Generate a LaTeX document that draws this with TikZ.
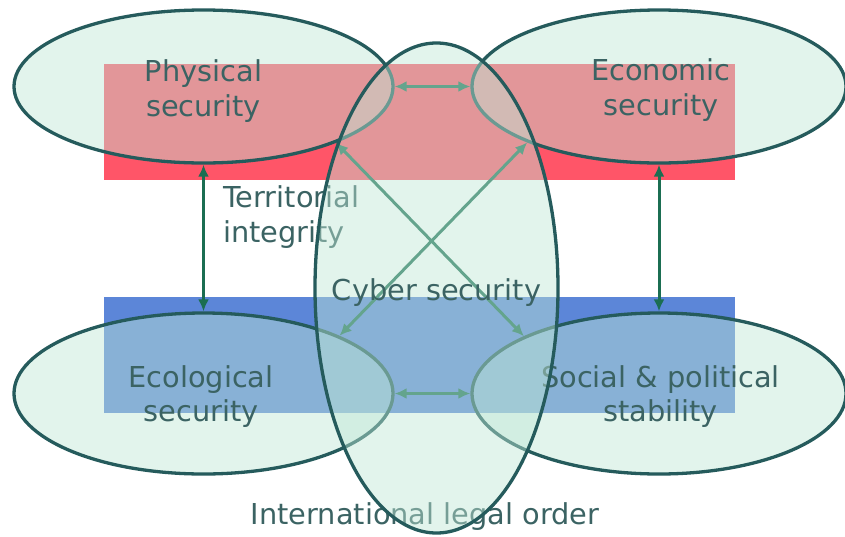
\documentclass[tikz,border=0pt]{standalone}
\usepackage{fontspec}
\setmainfont{DejaVu Sans}
\usetikzlibrary{shapes.geometric,arrows.meta}
\definecolor{outl}{HTML}{255B5C}
\definecolor{txt}{HTML}{3B6363}
\definecolor{redr}{HTML}{FF5568}
\definecolor{bluer}{HTML}{5C86D8}
\definecolor{arr}{HTML}{1B6E52}
\definecolor{ellf}{HTML}{BFE7D5}
\begin{document}
\begin{tikzpicture}[x=1pt,y=-1pt,
  oval/.style={ellipse, draw=outl, line width=3.3pt, fill=ellf, fill opacity=0.45, draw opacity=1, inner sep=0pt},
  lbl/.style={text=txt, font=\fontsize{28.8}{34.5}\selectfont, inner sep=0pt, align=center},
  link/.style={draw=arr, line width=3pt, {Latex[length=12pt,width=11pt]}-{Latex[length=12pt,width=11pt]}}]
\useasboundingbox (0,0) rectangle (845,536);
% bands
\fill[redr] (104,64) rectangle (735,180);
\fill[bluer] (104,297) rectangle (735,413);
% four ellipses (base anchor = baseline of the last line)
\node[oval, minimum width=379pt, minimum height=153pt] (phys) at (203.5,86.5) {};
\node[lbl, anchor=base] (physT) at (203.5,116) {Physical\\security};
\node[oval, minimum width=374pt, minimum height=153pt] (econ) at (659,86.5) {};
\node[lbl, anchor=base] (econT) at (661,115) {Economic\\security};
\node[oval, minimum width=379pt, minimum height=161pt] (eco) at (203.5,393.5) {};
\node[lbl, anchor=base] (ecoT) at (201,421.5) {Ecological\\security};
\node[oval, minimum width=374pt, minimum height=161pt] (soc) at (659,393.5) {};
\node[lbl, anchor=base] (socT) at (660.5,421.5) {Social \& political\\stability};
% connectors
\draw[link] (phys.south) -- (eco.north);
\draw[link] (econ.south) -- (soc.north);
\draw[link] (phys.east) -- (econ.west);
\draw[link] (eco.east) -- (soc.west);
\draw[link] (phys.-23) -- (soc.157);
\draw[link] (econ.-157) -- (eco.23);
% labels under the tall ellipse
\node[lbl, anchor=base west, align=left] (terr) at (223,242) {Territorial\\integrity};
\node[lbl, anchor=base] (intl) at (425,524) {International legal order};
% tall ellipse
\node[oval, minimum width=243pt, minimum height=490pt] (legal) at (436.5,288) {};
\node[lbl, anchor=base] (cyber) at (436.5,300) {Cyber security};
\end{tikzpicture}
\end{document}
